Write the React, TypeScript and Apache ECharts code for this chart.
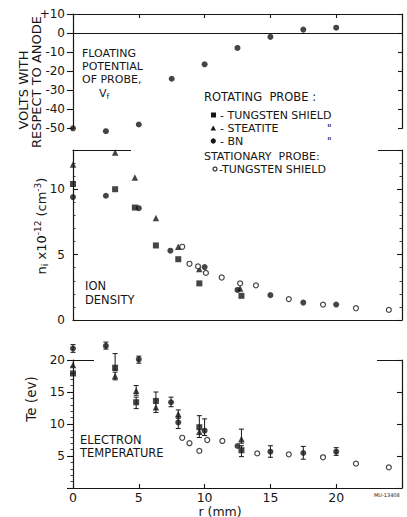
import React, { useEffect, useRef } from 'react';
import * as echarts from 'echarts';

// ---- Floating potential (BN probe) ----
const vfR = [0, 2.5, 5, 7.5, 10, 12.5, 15, 17.5, 20];
const vfBN = [-50, -51.5, -48, -24, -16.4, -7.8, -2, 1.8, 2.8];

// ---- Ion density (x10^12 cm^-3) ----
const niTungstenR = [0, 3.2, 4.7, 6.3, 8.0, 9.6, 12.8];
const niTungsten = [10.4, 10.0, 8.6, 5.7, 4.65, 2.8, 1.85];
const niSteatiteR = [0, 3.2, 4.7, 6.3, 8.0, 9.6, 12.7];
const niSteatite = [11.9, 12.8, 10.9, 7.8, 5.6, 3.9, 2.4];
const niBNR = [0, 2.5, 5.0, 7.4, 10.0, 12.5, 15, 17.5, 20];
const niBN = [9.4, 9.5, 8.55, 5.3, 4.05, 2.3, 1.9, 1.33, 1.18];
const niStatR = [8.3, 8.85, 9.5, 10.1, 11.3, 12.7, 13.9, 16.4, 19.0, 21.5, 24.0];
const niStat = [5.6, 4.3, 4.1, 3.6, 3.25, 2.8, 2.65, 1.6, 1.18, 0.9, 0.77];

// ---- Electron temperature (eV) ----
const teTungstenR = [0, 3.2, 4.8, 6.3, 9.6, 12.8];
const teTungsten = [17.9, 18.8, 13.4, 13.6, 9.5, 5.9];
const teSteatiteR = [0, 3.2, 4.8, 6.3, 8.0, 9.6, 12.8];
const teSteatite = [19.2, 17.5, 15.2, 12.6, 11.55, 8.8, 7.65];
const teBNR = [0, 2.5, 5.0, 7.45, 8.0, 10.0, 12.5, 15, 17.5, 20];
const teBN = [21.8, 22.2, 20.1, 13.4, 10.25, 8.95, 6.56, 5.67, 5.47, 5.67];
const teStatR = [8.3, 8.85, 9.6, 10.2, 11.35, 14.0, 16.4, 19.0, 21.5, 24.0];
const teStat = [7.85, 7.0, 5.8, 7.5, 7.35, 5.4, 5.26, 4.8, 3.8, 3.23];

// error bars on Te
const teErrR = [0, 2.5, 3.2, 3.2, 5.0, 4.8, 4.8, 6.3, 7.45, 8.0, 8.0, 9.6, 10.0, 12.8, 12.8, 15, 17.5, 20];
const teErrLow = [21.2, 21.7, 18.4, 16.9, 19.5, 14.5, 12.4, 11.8, 12.7, 10.9, 9.3, 7.9, 8.2, 7.0, 4.9, 4.8, 4.5, 5.1];
const teErrHigh = [22.4, 22.8, 21.0, 18.1, 20.6, 16.0, 14.2, 15.0, 14.2, 12.2, 11.1, 11.3, 10.8, 9.2, 6.6, 6.6, 6.5, 6.3];

// tick labels
const rTicks = [0, 5, 10, 15, 20];

const INK = '#161616';
const FONT = 'DejaVu Sans';

const zip = (xs: number[], ys: number[]) => xs.map((x, i) => [x, ys[i]]);

const vfLabel = (v: any) => {
  const n = Math.round(Number(v));
  return n > 0 ? '+' + n : '' + n;
};

export default function App() {
  const ref = useRef<HTMLDivElement>(null);

  useEffect(() => {
    const chart = echarts.init(ref.current!, null, { renderer: 'svg' });
    const axLine = (onZero: boolean) => ({ show: true, onZero, lineStyle: { color: INK, width: 1.2 } });
    const lbl = { color: INK, fontFamily: FONT, fontSize: 12 };

    const xAxis = (gridIndex: number, position: string, opts: any = {}) => ({
      type: 'value', gridIndex, position, min: 0, max: 25, interval: 5,
      splitLine: { show: false },
      axisLine: axLine(opts.onZero || false),
      axisTick: opts.ticks ? { show: true, inside: true, length: 4, lineStyle: { color: INK, width: 1.1 } } : { show: false },
      axisLabel: opts.labels
        ? { show: true, ...lbl, fontSize: 12.5, margin: 3, customValues: rTicks }
        : { show: false },
    });

    const yAxis = (gridIndex: number, position: string, min: number, max: number, interval: number, opts: any = {}) => ({
      type: 'value', gridIndex, position, min, max, interval,
      splitLine: { show: false },
      axisLine: axLine(false),
      axisTick: { show: true, inside: opts.inside !== false, length: opts.tickLen || 4, lineStyle: { color: INK, width: 1.1 } },
      minorTick: opts.minor ? { show: true, splitNumber: 5, length: 2.5, lineStyle: { color: INK, width: 0.8 } } : { show: false },
      axisLabel: opts.labels
        ? {
            show: true, ...lbl, margin: 8,
            showMaxLabel: opts.showMax !== false, showMinLabel: opts.showMin !== false,
            ...(opts.formatter ? { formatter: opts.formatter } : {}),
          }
        : { show: false },
    });

    const scatter = (name: string, xi: number, yi: number, data: number[][], symbol: string, size: number, open = false) => ({
      name, type: 'scatter', xAxisIndex: xi, yAxisIndex: yi, data, symbol, symbolSize: size, clip: false, z: 3,
      itemStyle: open ? { color: '#fff', borderColor: INK, borderWidth: 1.2 } : { color: INK },
    });

    const errData = teErrR.map((r, i) => [r, teErrLow[i], teErrHigh[i]]);

    const txt = (text: string, x: number, y: number, size = 12, extra: any = {}) => ({
      type: 'text', x, y, z: 10, ...extra,
      style: { text, fontFamily: FONT, fontSize: size, fill: INK, align: 'left', verticalAlign: 'middle', ...(extra.style || {}) },
    });

    const option: any = {
      animation: false,
      backgroundColor: '#fff',
      grid: [
        { left: 73, right: 5, top: 14, height: 114.3 },
        { left: 73, right: 5, top: 150, height: 170 },
        { left: 73, right: 5, top: 360, height: 128 },
      ],
      xAxis: [
        xAxis(0, 'top', { ticks: true }),
        xAxis(0, 'bottom', { onZero: true }),
        xAxis(1, 'top'),
        xAxis(1, 'bottom'),
        xAxis(2, 'top'),
        xAxis(2, 'bottom', { ticks: true, labels: true }),
      ],
      yAxis: [
        yAxis(0, 'left', -50, 10, 10, { inside: false, tickLen: 6, labels: true, formatter: vfLabel }),
        yAxis(0, 'right', -50, 10, 10, {}),
        yAxis(1, 'left', 0, 13, 5, { minor: true, tickLen: 5, labels: true, showMax: false }),
        yAxis(1, 'right', 0, 13, 5, { minor: true, tickLen: 5 }),
        yAxis(2, 'left', 0, 20, 5, { inside: false, tickLen: 6, minor: true, labels: true, showMin: false }),
        yAxis(2, 'right', 0, 20, 5, { tickLen: 5 }),
      ],
      series: [
        scatter('Vf BN', 1, 0, zip(vfR, vfBN), 'circle', 6),
        scatter('ni tungsten', 3, 2, zip(niTungstenR, niTungsten), 'rect', 6),
        scatter('ni steatite', 3, 2, zip(niSteatiteR, niSteatite), 'triangle', 6.5),
        scatter('ni BN', 3, 2, zip(niBNR, niBN), 'circle', 6),
        scatter('ni stationary', 3, 2, zip(niStatR, niStat), 'circle', 5, true),
        {
          type: 'custom', xAxisIndex: 5, yAxisIndex: 4, clip: false, z: 2,
          data: errData,
          encode: { x: 0, y: [1, 2] },
          renderItem: (params: any, api: any) => {
            const x = api.value(0);
            const lo = api.coord([x, api.value(1)]);
            const hi = api.coord([x, api.value(2)]);
            const st = { stroke: INK, lineWidth: 1 };
            return {
              type: 'group',
              children: [
                { type: 'line', shape: { x1: lo[0], y1: lo[1], x2: hi[0], y2: hi[1] }, style: st },
                { type: 'line', shape: { x1: lo[0] - 2.5, y1: lo[1], x2: lo[0] + 2.5, y2: lo[1] }, style: st },
                { type: 'line', shape: { x1: hi[0] - 2.5, y1: hi[1], x2: hi[0] + 2.5, y2: hi[1] }, style: st },
              ],
            };
          },
        },
        scatter('te tungsten', 5, 4, zip(teTungstenR, teTungsten), 'rect', 6),
        scatter('te steatite', 5, 4, zip(teSteatiteR, teSteatite), 'triangle', 6.5),
        scatter('te BN', 5, 4, zip(teBNR, teBN), 'circle', 6),
        scatter('te stationary', 5, 4, zip(teStatR, teStat), 'circle', 5, true),
      ],
      graphic: [
        // gaps in frame lines (as in the original drawing)
        { type: 'rect', z: 1, shape: { x: 131, y: 147, width: 247, height: 6 }, style: { fill: '#fff' } },
        { type: 'rect', z: 1, shape: { x: 94, y: 357, width: 283, height: 6 }, style: { fill: '#fff' } },
        // axis titles
        txt('VOLTS WITH', 23, 90, 13, { rotation: Math.PI / 2, style: { align: 'center' } }),
        txt('RESPECT TO ANODE', 36, 82, 13, { rotation: Math.PI / 2, style: { align: 'center' } }),
        {
          type: 'text', x: 41, y: 226, z: 10, rotation: Math.PI / 2,
          style: {
            text: '{m|n}{s|i}{m| x10}{p|-12}{m| (cm}{p|-3}{m|)}',
            align: 'center', verticalAlign: 'middle', fill: INK,
            rich: {
              m: { fontFamily: FONT, fontSize: 13, lineHeight: 16, fill: INK },
              s: { fontFamily: FONT, fontSize: 9, lineHeight: 9, verticalAlign: 'bottom', fill: INK },
              p: { fontFamily: FONT, fontSize: 9, lineHeight: 9, verticalAlign: 'top', fill: INK },
            },
          },
        },
        txt('Te (ev)', 31, 399, 13.5, { rotation: Math.PI / 2, style: { align: 'center' } }),
        txt('r (mm)', 220, 511, 12.5, { style: { align: 'center' } }),
        // panel annotations
        txt('FLOATING', 82, 53, 11),
        txt('POTENTIAL', 82, 66.5, 11),
        txt('OF PROBE,', 82, 79.5, 11),
        {
          type: 'text', x: 99, y: 93.5, z: 10,
          style: {
            text: '{m|V}{s|f}', align: 'left', verticalAlign: 'middle', fill: INK,
            rich: {
              m: { fontFamily: FONT, fontSize: 11, lineHeight: 13, fill: INK },
              s: { fontFamily: FONT, fontSize: 7.5, lineHeight: 7.5, verticalAlign: 'bottom', fill: INK },
            },
          },
        },
        txt('ION', 85, 286, 11.5),
        txt('DENSITY', 85, 300, 11.5),
        txt('ELECTRON', 80, 440, 11.5),
        txt('TEMPERATURE', 80, 452.5, 11.5),
        // legend
        txt('ROTATING  PROBE :', 204, 97, 11.5),
        { type: 'rect', z: 10, shape: { x: 211, y: 112.5, width: 5, height: 5 }, style: { fill: INK } },
        txt('- TUNGSTEN SHIELD', 220, 115, 11),
        { type: 'polygon', z: 10, shape: { points: [[210.5, 130.5], [216, 130.5], [213.2, 125.5]] }, style: { fill: INK } },
        txt('- STEATITE', 220, 128, 11),
        txt('"', 327, 128, 10),
        { type: 'circle', z: 10, shape: { cx: 213.3, cy: 141, r: 2.6 }, style: { fill: INK } },
        txt('- BN', 220, 141, 11),
        txt('"', 327, 141, 10),
        txt('STATIONARY  PROBE:', 204, 156.5, 11),
        { type: 'circle', z: 10, shape: { cx: 215, cy: 169, r: 2 }, style: { fill: '#fff', stroke: INK, lineWidth: 1.1 } },
        txt('-TUNGSTEN SHIELD', 219, 169.5, 11),
        txt('MU-13408', 374, 495, 5),
      ],
    };

    chart.setOption(option);
    return () => chart.dispose();
  }, []);

  return <div ref={ref} style={{ position: 'fixed', left: 0, top: 0, width: 407, height: 517, background: '#fff' }} />;
}
